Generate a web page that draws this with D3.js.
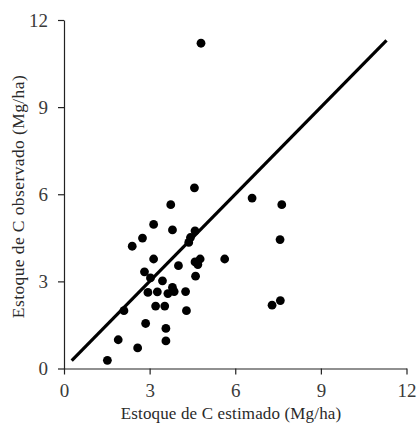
<!DOCTYPE html>
<html>
<head>
<meta charset="utf-8">
<script src="https://cdn.jsdelivr.net/npm/d3@7"></script>
<style>
  html, body { margin: 0; padding: 0; background: #fff; }
  svg { display: block; }
  text { font-family: "Liberation Serif", "Times New Roman", serif; }
</style>
</head>
<body>
<svg id="chart" width="418" height="427"></svg>
<script>
// Data
const estimado = [4.80, 4.57, 3.74, 6.59, 7.63, 3.14, 3.80, 4.59, 2.75, 2.39,
  4.43, 4.37, 7.57, 3.14, 4.77, 4.59, 4.69, 5.63, 4.01, 2.82,
  3.03, 3.45, 4.61, 2.94, 3.27, 3.80, 3.86, 3.64, 4.26, 3.21,
  3.53, 2.10, 4.29, 2.86, 3.57, 3.57, 1.90, 2.58, 1.52, 7.29, 7.58];
const observado = [11.20, 6.22, 5.64, 5.87, 5.64, 4.96, 4.77, 4.74, 4.49, 4.21,
  4.51, 4.34, 4.44, 3.77, 3.77, 3.67, 3.58, 3.77, 3.54, 3.33,
  3.12, 3.02, 3.18, 2.62, 2.64, 2.79, 2.65, 2.58, 2.65, 2.15,
  2.15, 1.99, 1.99, 1.55, 1.38, 0.95, 0.99, 0.71, 0.28, 2.18, 2.34];
const lineX = [0.27, 11.3];
const lineY = [0.27, 11.3];
const ticks = [0, 3, 6, 9, 12];
const xTitle = "Estoque de C estimado (Mg/ha)";
const yTitle = "Estoque de C observado (Mg/ha)";

const svg = d3.select("#chart");
const x = d3.scaleLinear().domain([0, 12]).range([64, 406.5]);
const y = d3.scaleLinear().domain([0, 12]).range([368.5, 20]);

const xAxis = svg.append("g")
  .attr("transform", `translate(0,${y(0)})`)
  .call(d3.axisBottom(x).tickValues(ticks).tickSize(6).tickPadding(9).tickSizeOuter(0));
const yAxis = svg.append("g")
  .attr("transform", `translate(${x(0)},0)`)
  .call(d3.axisLeft(y).tickValues(ticks).tickSize(6).tickPadding(10).tickSizeOuter(0));

[xAxis, yAxis].forEach(g => {
  g.attr("font-family", null).attr("font-size", null);
  g.select(".domain").attr("stroke", "#222").attr("stroke-width", 1.2);
  g.selectAll(".tick line").attr("stroke", "#222").attr("stroke-width", 1.2);
  g.selectAll(".tick text")
    .attr("fill", "#3a3a3a")
    .style("font-size", "19px")
    .style("font-family", "'Liberation Serif', 'Times New Roman', serif");
});

// 1:1 line
svg.append("line")
  .attr("x1", x(lineX[0])).attr("y1", y(lineY[0]))
  .attr("x2", x(lineX[1])).attr("y2", y(lineY[1]))
  .attr("stroke", "#000").attr("stroke-width", 3.2);

// points
svg.append("g").selectAll("circle")
  .data(estimado.map((d, i) => [d, observado[i]]))
  .join("circle")
  .attr("cx", d => x(d[0]))
  .attr("cy", d => y(d[1]))
  .attr("r", 4.4)
  .attr("fill", "#000");

svg.append("text")
  .attr("x", 231).attr("y", 419)
  .attr("text-anchor", "middle")
  .attr("fill", "#2a2a2a")
  .style("font-size", "17px")
  .style("letter-spacing", "0.15px")
  .text(xTitle);

svg.append("text")
  .attr("transform", `translate(24,${(78 + 315) / 2}) rotate(-90)`)
  .attr("text-anchor", "middle")
  .attr("fill", "#2a2a2a")
  .style("font-size", "17.5px")
  .style("letter-spacing", "0.4px")
  .text(yTitle);
</script>
</body>
</html>
